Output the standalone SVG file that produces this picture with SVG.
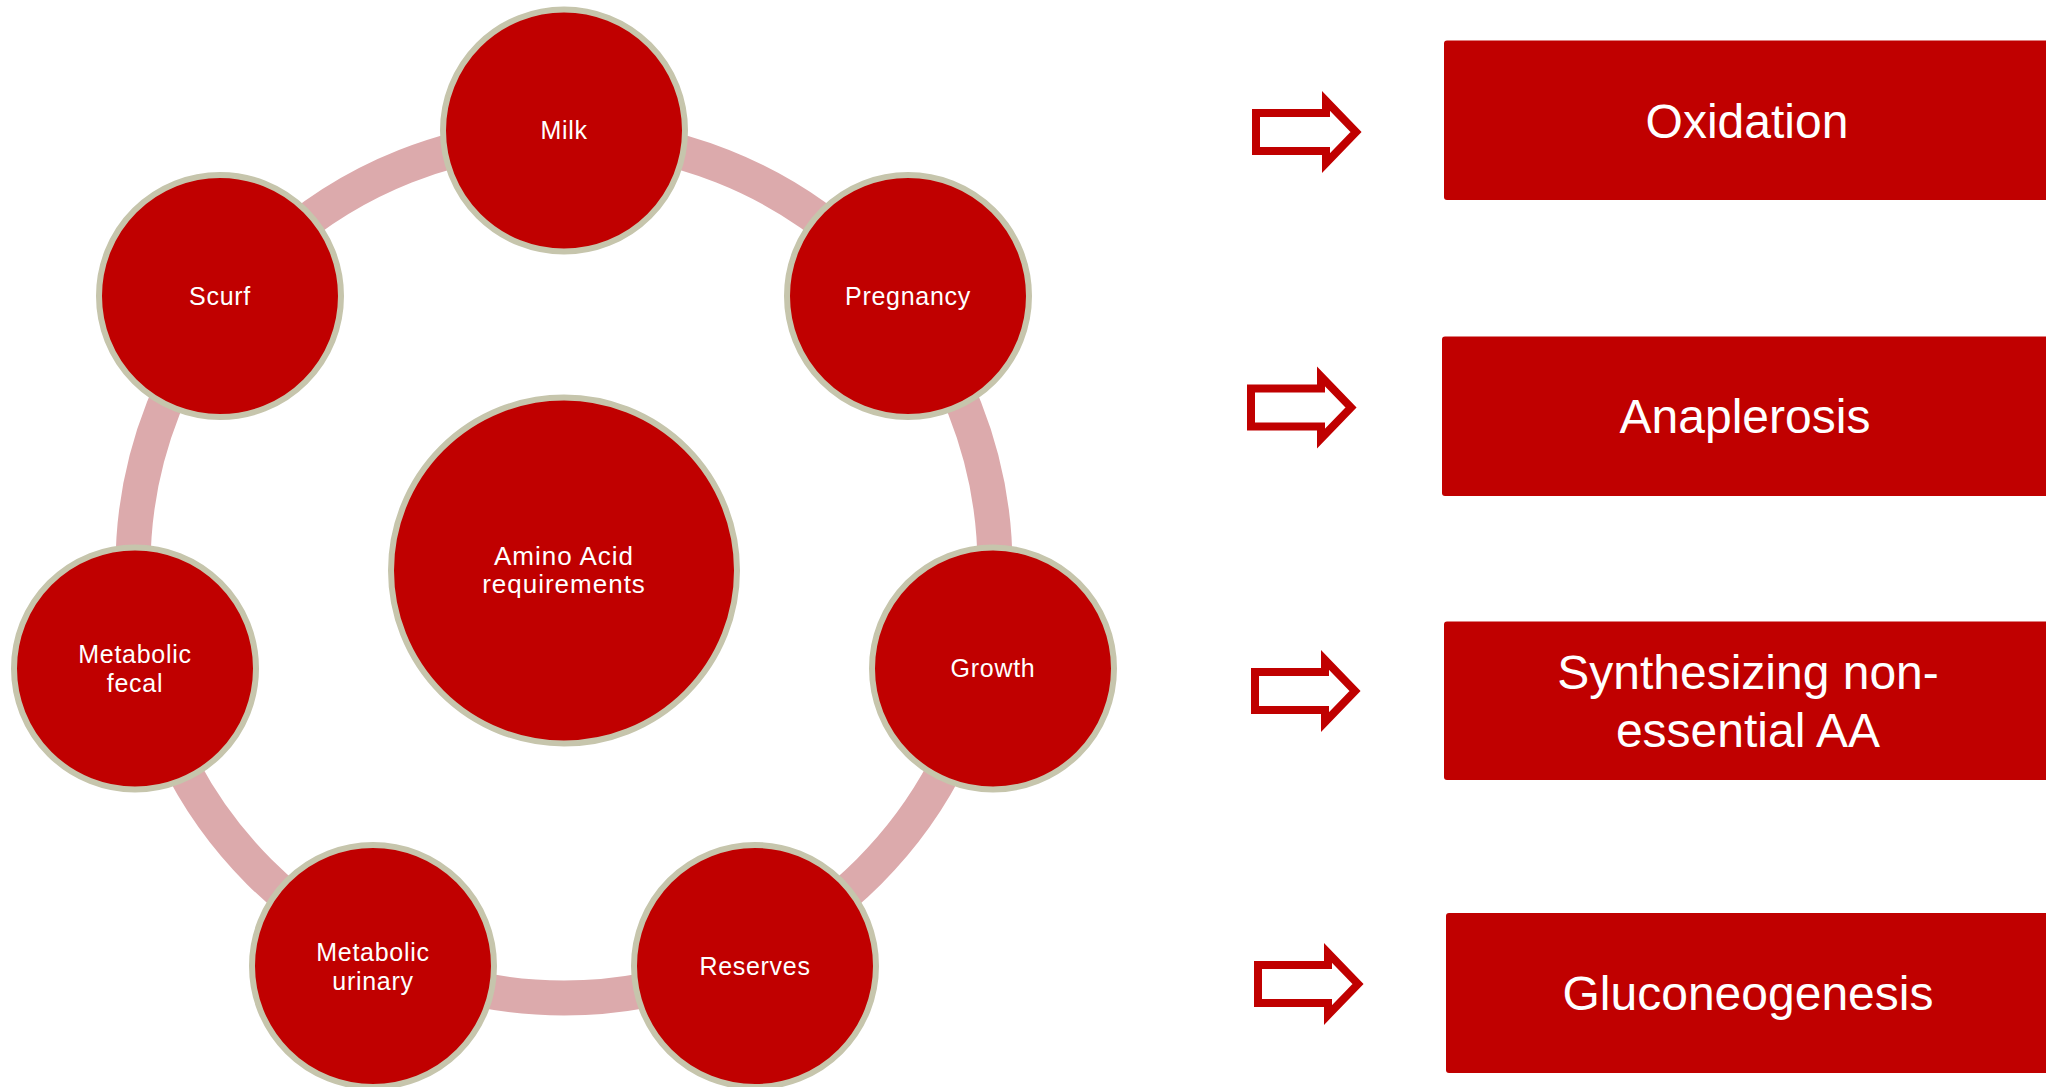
<svg xmlns="http://www.w3.org/2000/svg" width="2046" height="1087" viewBox="0 0 2046 1087">
<style>
.node{fill:#C00000;stroke:#C6C5AC;stroke-width:6}
.nt{font-family:"Liberation Sans",Arial,sans-serif;font-size:25px;letter-spacing:0.7px;fill:#FFFFFF;text-anchor:middle}
.ct{font-family:"Liberation Sans",Arial,sans-serif;font-size:26px;letter-spacing:1px;fill:#FFFFFF;text-anchor:middle}
.box{fill:#C00000}
.bt{font-family:"Liberation Sans",Arial,sans-serif;font-size:48px;fill:#FFFFFF;text-anchor:middle}
.arr{fill:#FFFFFF;stroke:#C00000;stroke-width:8;stroke-linejoin:miter;stroke-miterlimit:10}
</style>
<defs>
<path id="arrowShape" d="M4,-19 H74 V-31 L104,0 L74,31 V19 H4 Z"/>
</defs>
<rect width="2046" height="1087" fill="#FFFFFF"/>
<g id="connectors">
<circle cx="564" cy="567" r="431" fill="none" stroke="#DCAAAC" stroke-width="35"/>
</g>
<g id="node-center">
<circle class="node" cx="564" cy="570.5" r="173"/>
<text class="ct" x="564" y="565">Amino Acid</text>
<text class="ct" x="564" y="593">requirements</text>
</g>
<g id="node-milk">
<circle class="node" cx="564" cy="130.5" r="121"/>
<text class="nt" x="564" y="139">Milk</text>
</g>
<g id="node-pregnancy">
<circle class="node" cx="908" cy="296" r="121"/>
<text class="nt" x="908" y="305">Pregnancy</text>
</g>
<g id="node-growth">
<circle class="node" cx="993" cy="668.5" r="121"/>
<text class="nt" x="993" y="677">Growth</text>
</g>
<g id="node-reserves">
<circle class="node" cx="755" cy="966" r="121"/>
<text class="nt" x="755" y="975">Reserves</text>
</g>
<g id="node-urinary">
<circle class="node" cx="373" cy="966" r="121"/>
<text class="nt" x="373" y="961">Metabolic</text>
<text class="nt" x="373" y="990">urinary</text>
</g>
<g id="node-fecal">
<circle class="node" cx="135" cy="668.5" r="121"/>
<text class="nt" x="135" y="663">Metabolic</text>
<text class="nt" x="135" y="692">fecal</text>
</g>
<g id="node-scurf">
<circle class="node" cx="220" cy="296" r="121"/>
<text class="nt" x="220" y="305">Scurf</text>
</g>
<g id="arrow-1"><use href="#arrowShape" class="arr" transform="translate(1252,132)"/></g>
<g id="arrow-2"><use href="#arrowShape" class="arr" transform="translate(1247,407.5)"/></g>
<g id="arrow-3"><use href="#arrowShape" class="arr" transform="translate(1251,691)"/></g>
<g id="arrow-4"><use href="#arrowShape" class="arr" transform="translate(1254,984)"/></g>
<g id="box-oxidation">
<rect class="box" x="1444" y="40.5" width="606" height="159.5" rx="3"/>
<text class="bt" x="1747" y="138">Oxidation</text>
</g>
<g id="box-anaplerosis">
<rect class="box" x="1442" y="336.5" width="608" height="159.5" rx="3"/>
<text class="bt" x="1745" y="433">Anaplerosis</text>
</g>
<g id="box-synthesizing">
<rect class="box" x="1444" y="621.5" width="606" height="158.5" rx="3"/>
<text class="bt" x="1748" y="689">Synthesizing non-</text>
<text class="bt" x="1748" y="747">essential AA</text>
</g>
<g id="box-gluconeogenesis">
<rect class="box" x="1446" y="913" width="604" height="160" rx="3"/>
<text class="bt" x="1748" y="1010">Gluconeogenesis</text>
</g>
</svg>
